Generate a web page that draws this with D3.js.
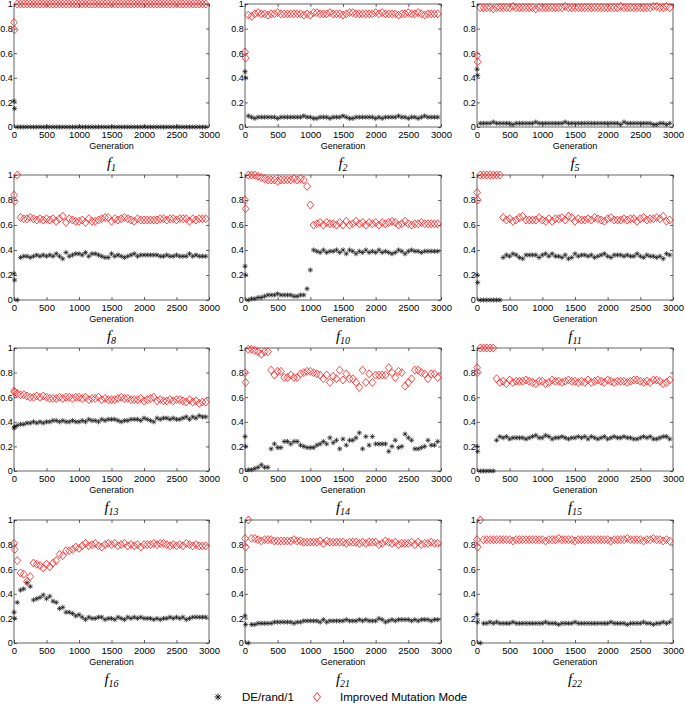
<!DOCTYPE html>
<html><head><meta charset="utf-8">
<script src="https://cdn.jsdelivr.net/npm/d3@7"></script>
<style>body{margin:0;background:#fff}svg{display:block}</style>
</head><body>
<svg id="c" width="685" height="705"></svg>
<script>
// Generations at which the ratios were sampled
const generations = [1,10,50,100,150,200,250,300,350,400,
 450,500,550,600,650,700,750,800,850,900,
 950,1000,1050,1100,1150,1200,1250,1300,1350,1400,
 1450,1500,1550,1600,1650,1700,1750,1800,1850,1900,
 1950,2000,2050,2100,2150,2200,2250,2300,2350,2400,
 2450,2500,2550,2600,2650,2700,2750,2800,2850,2900,2950];
const xTicks = [0,500,1000,1500,2000,2500,3000];
const yTicks = [0,0.2,0.4,0.6,0.8,1];
const yTickLabels = ["0","0.2","0.4","0.6","0.8","1"];
const panelNames = ["1","2","5","8","10","11","13","14","15","16","21","22"];
const seriesNames = ["DE/rand/1","Improved Mutation Mode"];

const f1_rand = [0.21,0.15,0,0,0,0,0,0,0,0,
 0,0,0,0,0,0,0,0,0,0, 0,0,0,0,0,0,0,0,0,0, 0,0,0,0,0,0,0,0,0,0,
 0,0,0,0,0,0,0,0,0,0, 0,0,0,0,0,0,0,0,0,0,0];
const f1_imp = [0.85,0.79,1,1,1,1,1,1,1,1,
 1,1,1,1,1,1,1,1,1,1, 1,1,1,1,1,1,1,1,1,1, 1,1,1,1,1,1,1,1,1,1,
 1,1,1,1,1,1,1,1,1,1, 1,1,1,1,1,1,1,1,1,1,1];

const f2_rand = [0.45,0.40,0.09,0.08,0.07,0.08,0.08,0.08,0.08,0.08,
 0.08,0.07,0.08,0.08,0.08,0.08,0.08,0.08,0.08,0.09,
 0.08,0.08,0.07,0.07,0.08,0.08,0.08,0.07,0.08,0.08,
 0.08,0.09,0.08,0.07,0.07,0.08,0.08,0.08,0.08,0.08,
 0.08,0.07,0.08,0.07,0.08,0.08,0.08,0.08,0.09,0.08,
 0.08,0.07,0.08,0.08,0.07,0.08,0.09,0.08,0.08,0.08,0.08];
const f2_imp = [0.61,0.56,0.91,0.90,0.92,0.93,0.92,0.92,0.91,0.92,
 0.92,0.93,0.92,0.92,0.92,0.92,0.92,0.92,0.92,0.91,
 0.92,0.91,0.93,0.93,0.92,0.92,0.92,0.93,0.92,0.92,
 0.92,0.91,0.92,0.93,0.93,0.92,0.92,0.92,0.92,0.92,
 0.92,0.93,0.92,0.93,0.92,0.92,0.92,0.92,0.91,0.92,
 0.92,0.93,0.92,0.92,0.93,0.92,0.91,0.92,0.92,0.92,0.92];

const f5_rand = [0.47,0.42,0.03,0.03,0.03,0.03,0.04,0.03,0.03,0.03,
 0.03,0.03,0.02,0.03,0.03,0.03,0.03,0.03,0.03,0.04,
 0.03,0.03,0.03,0.03,0.03,0.03,0.03,0.03,0.04,0.03,
 0.03,0.03,0.03,0.03,0.03,0.03,0.03,0.03,0.03,0.03,
 0.03,0.03,0.03,0.03,0.03,0.02,0.04,0.03,0.03,0.03,
 0.03,0.03,0.03,0.03,0.03,0.02,0.02,0.03,0.03,0.02,0.03];
const f5_imp = [0.58,0.53,0.97,0.97,0.97,0.97,0.96,0.97,0.97,0.97,
 0.97,0.97,0.98,0.97,0.97,0.97,0.97,0.97,0.97,0.96,
 0.97,0.97,0.97,0.97,0.97,0.97,0.97,0.97,0.98,0.97,
 0.97,0.97,0.97,0.97,0.97,0.97,0.97,0.97,0.97,0.97,
 0.97,0.97,0.97,0.97,0.97,0.98,0.97,0.97,0.97,0.97,
 0.97,0.97,0.97,0.97,0.97,0.98,0.98,0.97,0.97,0.98,0.97];

const f8_rand = [0.21,0.16,0.00,0.34,0.35,0.35,0.34,0.35,0.36,0.35,
 0.36,0.35,0.36,0.35,0.37,0.35,0.33,0.38,0.35,0.36,
 0.37,0.37,0.36,0.38,0.35,0.37,0.37,0.36,0.35,0.34,
 0.34,0.37,0.35,0.36,0.35,0.34,0.35,0.36,0.37,0.35,
 0.36,0.36,0.36,0.36,0.36,0.36,0.35,0.35,0.36,0.35,
 0.35,0.36,0.35,0.35,0.35,0.37,0.35,0.36,0.35,0.35,0.35];
const f8_imp = [0.84,0.79,1.00,0.66,0.65,0.65,0.66,0.65,0.64,0.65,
 0.64,0.65,0.64,0.65,0.63,0.65,0.67,0.62,0.65,0.64,
 0.63,0.63,0.64,0.62,0.65,0.63,0.63,0.64,0.65,0.66,
 0.66,0.63,0.65,0.64,0.65,0.66,0.65,0.64,0.63,0.65,
 0.64,0.64,0.64,0.64,0.64,0.64,0.65,0.65,0.64,0.65,
 0.65,0.64,0.65,0.65,0.65,0.63,0.65,0.64,0.65,0.65,0.65];

const f10_rand = [0.27,0.20,0.00,0.01,0.01,0.02,0.02,0.03,0.04,0.04,
 0.04,0.05,0.04,0.04,0.04,0.04,0.03,0.03,0.04,0.04,
 0.09,0.24,0.40,0.39,0.38,0.40,0.38,0.39,0.39,0.40,
 0.38,0.40,0.37,0.40,0.39,0.37,0.39,0.38,0.40,0.38,
 0.39,0.38,0.40,0.38,0.39,0.38,0.37,0.38,0.40,0.39,
 0.37,0.39,0.40,0.39,0.39,0.38,0.39,0.39,0.39,0.39,0.39];
const f10_imp = [0.80,0.73,1.00,1.00,1.00,0.99,0.98,0.97,0.96,0.96,
 0.96,0.95,0.96,0.96,0.96,0.96,0.97,0.96,0.97,0.96,
 0.91,0.76,0.60,0.61,0.62,0.60,0.62,0.61,0.61,0.60,
 0.62,0.60,0.63,0.60,0.61,0.63,0.61,0.62,0.60,0.62,
 0.61,0.62,0.60,0.62,0.61,0.62,0.63,0.62,0.60,0.61,
 0.63,0.61,0.60,0.61,0.61,0.62,0.61,0.61,0.61,0.61,0.61];

const f11_rand = [0.20,0.14,0.00,0.00,0.00,0.00,0.00,0.00,0.00,0.34,
 0.36,0.35,0.37,0.36,0.34,0.33,0.36,0.36,0.36,0.36,
 0.34,0.36,0.37,0.35,0.37,0.35,0.35,0.34,0.36,0.33,
 0.34,0.37,0.35,0.36,0.36,0.35,0.36,0.34,0.35,0.36,
 0.37,0.35,0.34,0.36,0.36,0.36,0.35,0.36,0.35,0.35,
 0.37,0.35,0.34,0.36,0.35,0.35,0.34,0.35,0.33,0.37,0.36];
const f11_imp = [0.86,0.80,1.00,1.00,1.00,1.00,1.00,1.00,1.00,0.66,
 0.64,0.65,0.63,0.64,0.66,0.67,0.64,0.64,0.64,0.64,
 0.66,0.64,0.63,0.65,0.63,0.65,0.65,0.66,0.64,0.67,
 0.66,0.63,0.65,0.64,0.64,0.65,0.64,0.66,0.65,0.64,
 0.63,0.65,0.66,0.64,0.64,0.64,0.65,0.64,0.65,0.65,
 0.63,0.65,0.66,0.64,0.65,0.65,0.66,0.65,0.67,0.63,0.64];

const f13_rand = [0.35,0.36,0.37,0.38,0.38,0.39,0.39,0.40,0.39,0.40,
 0.39,0.40,0.40,0.41,0.41,0.40,0.41,0.40,0.40,0.41,
 0.40,0.40,0.41,0.40,0.42,0.41,0.41,0.40,0.42,0.41,
 0.42,0.42,0.42,0.41,0.40,0.41,0.41,0.42,0.42,0.42,
 0.41,0.43,0.42,0.41,0.40,0.43,0.42,0.43,0.43,0.42,
 0.43,0.42,0.42,0.43,0.44,0.42,0.44,0.43,0.45,0.44,0.44];
const f13_imp = [0.65,0.64,0.63,0.62,0.62,0.61,0.60,0.60,0.61,0.60,
 0.61,0.60,0.59,0.59,0.59,0.60,0.59,0.60,0.60,0.59,
 0.60,0.60,0.59,0.60,0.58,0.59,0.59,0.60,0.58,0.59,
 0.58,0.58,0.58,0.59,0.60,0.59,0.59,0.58,0.58,0.58,
 0.59,0.57,0.58,0.59,0.60,0.57,0.58,0.57,0.57,0.58,
 0.57,0.58,0.58,0.57,0.56,0.58,0.56,0.57,0.55,0.56,0.56];

const f14_rand = [0.28,0.20,0.01,0.01,0.02,0.03,0.05,0.03,0.03,0.18,
 0.22,0.19,0.19,0.24,0.24,0.22,0.24,0.24,0.21,0.20,
 0.19,0.19,0.19,0.21,0.22,0.24,0.22,0.27,0.23,0.25,
 0.18,0.26,0.21,0.25,0.25,0.27,0.31,0.18,0.28,0.21,
 0.28,0.22,0.22,0.22,0.22,0.16,0.20,0.25,0.19,0.20,
 0.30,0.27,0.25,0.18,0.18,0.19,0.20,0.25,0.21,0.21,0.24];
const f14_imp = [0.80,0.72,0.99,0.99,0.98,0.97,0.95,0.97,0.97,0.82,
 0.78,0.81,0.81,0.76,0.76,0.78,0.76,0.76,0.79,0.80,
 0.81,0.81,0.80,0.79,0.78,0.75,0.78,0.72,0.77,0.75,
 0.82,0.74,0.79,0.75,0.75,0.72,0.68,0.82,0.72,0.79,
 0.72,0.78,0.78,0.78,0.78,0.84,0.80,0.76,0.81,0.80,
 0.69,0.72,0.75,0.82,0.82,0.80,0.79,0.75,0.79,0.79,0.76];

const f15_rand = [0.20,0.16,0.00,0.00,0.00,0.00,0.00,0.25,0.28,0.27,
 0.28,0.26,0.27,0.27,0.27,0.27,0.26,0.27,0.28,0.29,
 0.27,0.27,0.29,0.28,0.26,0.27,0.27,0.28,0.27,0.26,
 0.27,0.27,0.28,0.27,0.28,0.26,0.28,0.27,0.26,0.27,
 0.28,0.26,0.27,0.28,0.27,0.27,0.28,0.27,0.27,0.26,
 0.26,0.27,0.28,0.27,0.28,0.26,0.26,0.27,0.28,0.28,0.26];
const f15_imp = [0.84,0.80,1.00,1.00,1.00,1.00,1.00,0.75,0.72,0.73,
 0.71,0.74,0.72,0.73,0.73,0.73,0.74,0.73,0.72,0.71,
 0.73,0.73,0.71,0.72,0.74,0.73,0.73,0.72,0.73,0.74,
 0.73,0.73,0.72,0.73,0.72,0.74,0.72,0.73,0.74,0.73,
 0.72,0.74,0.73,0.72,0.73,0.73,0.73,0.72,0.73,0.74,
 0.74,0.73,0.72,0.73,0.72,0.74,0.74,0.73,0.71,0.72,0.74];

const f16_rand = [0.25,0.20,0.33,0.43,0.44,0.49,0.46,0.35,0.36,0.37,
 0.39,0.36,0.38,0.34,0.33,0.28,0.29,0.25,0.25,0.24,
 0.22,0.23,0.21,0.19,0.21,0.20,0.20,0.21,0.21,0.19,
 0.20,0.20,0.19,0.21,0.20,0.19,0.21,0.20,0.21,0.20,
 0.21,0.20,0.20,0.20,0.19,0.20,0.19,0.20,0.20,0.21,
 0.20,0.21,0.20,0.21,0.19,0.20,0.21,0.21,0.21,0.21,0.21];
const f16_imp = [0.81,0.76,0.67,0.57,0.56,0.50,0.54,0.65,0.64,0.63,
 0.61,0.64,0.62,0.65,0.67,0.72,0.71,0.75,0.75,0.76,
 0.78,0.77,0.79,0.81,0.79,0.80,0.81,0.79,0.78,0.80,
 0.81,0.80,0.81,0.79,0.80,0.81,0.79,0.80,0.79,0.80,
 0.78,0.80,0.80,0.80,0.81,0.80,0.81,0.81,0.80,0.79,
 0.80,0.79,0.80,0.79,0.81,0.80,0.79,0.80,0.79,0.79,0.79];

const f21_rand = [0.22,0.15,0.00,0.15,0.15,0.16,0.16,0.16,0.16,0.16,
 0.17,0.17,0.17,0.17,0.17,0.17,0.16,0.17,0.17,0.18,
 0.18,0.18,0.18,0.18,0.17,0.19,0.17,0.18,0.18,0.18,
 0.18,0.18,0.19,0.18,0.18,0.18,0.19,0.18,0.19,0.18,
 0.18,0.18,0.20,0.19,0.17,0.18,0.19,0.18,0.19,0.19,
 0.19,0.19,0.18,0.19,0.18,0.19,0.19,0.19,0.18,0.19,0.19];
const f21_imp = [0.85,0.78,1.00,0.85,0.85,0.84,0.83,0.84,0.84,0.84,
 0.83,0.83,0.83,0.83,0.83,0.83,0.84,0.83,0.83,0.82,
 0.82,0.82,0.82,0.82,0.83,0.81,0.83,0.82,0.82,0.82,
 0.82,0.82,0.81,0.82,0.82,0.82,0.81,0.82,0.81,0.82,
 0.82,0.82,0.80,0.81,0.83,0.82,0.81,0.82,0.80,0.81,
 0.81,0.81,0.82,0.80,0.82,0.80,0.81,0.81,0.82,0.81,0.81];

const f22_rand = [0.23,0.17,0.00,0.16,0.16,0.17,0.16,0.17,0.16,0.16,
 0.16,0.16,0.17,0.16,0.16,0.16,0.16,0.16,0.16,0.16,
 0.16,0.16,0.17,0.16,0.16,0.16,0.15,0.16,0.16,0.16,
 0.16,0.17,0.16,0.16,0.16,0.16,0.16,0.16,0.16,0.16,
 0.16,0.16,0.17,0.16,0.16,0.16,0.16,0.15,0.16,0.16,
 0.16,0.16,0.17,0.16,0.16,0.15,0.16,0.16,0.17,0.16,0.17];
const f22_imp = [0.84,0.78,1.00,0.84,0.84,0.84,0.84,0.84,0.84,0.84,
 0.84,0.84,0.83,0.84,0.84,0.84,0.84,0.84,0.84,0.84,
 0.84,0.84,0.83,0.84,0.84,0.84,0.85,0.84,0.84,0.84,
 0.84,0.83,0.84,0.84,0.84,0.84,0.84,0.84,0.84,0.84,
 0.84,0.84,0.83,0.84,0.84,0.84,0.84,0.85,0.84,0.84,
 0.84,0.84,0.83,0.84,0.84,0.85,0.84,0.84,0.83,0.84,0.83];

const randSeries = [f1_rand,f2_rand,f5_rand,f8_rand,f10_rand,f11_rand,f13_rand,f14_rand,f15_rand,f16_rand,f21_rand,f22_rand];
const impSeries  = [f1_imp,f2_imp,f5_imp,f8_imp,f10_imp,f11_imp,f13_imp,f14_imp,f15_imp,f16_imp,f21_imp,f22_imp];

// ---- layout ----
const colL = [14, 245, 477], colR = [209, 441, 673];
const rowT = [4, 175, 348, 520], rowB = [127, 300, 471, 643];
const svg = d3.select("#c");
const tickFont = "'Liberation Sans', Arial, sans-serif";

const starPath = (() => {
  const r = 2.6, d = 1.85;
  return `M${-r},0L${r},0M0,${-r}L0,${r}M${-d},${-d}L${d},${d}M${-d},${d}L${d},${-d}`;
})();
const diamondPath = "M0,-4L3.4,0L0,4L-3.4,0Z";

panelNames.forEach((name, i) => {
  const r = Math.floor(i / 3), c = i % 3;
  const x = d3.scaleLinear().domain([0, 3000]).range([colL[c], colR[c]]);
  const y = d3.scaleLinear().domain([0, 1]).range([rowB[r], rowT[r]]);
  const g = svg.append("g");

  const axB = d3.axisBottom(x).tickValues(xTicks).tickFormat(d3.format("d")).tickSizeInner(-3).tickSizeOuter(0).tickPadding(4);
  const axT = d3.axisTop(x).tickValues(xTicks).tickFormat("").tickSizeInner(-3).tickSizeOuter(0);
  const axL = d3.axisLeft(y).tickValues(yTicks).tickFormat((d, j) => yTickLabels[j]).tickSizeInner(-3).tickSizeOuter(0).tickPadding(1.2);
  const axR = d3.axisRight(y).tickValues(yTicks).tickFormat("").tickSizeInner(-3).tickSizeOuter(0);

  [[axB, `translate(0,${rowB[r]})`, 9.5], [axT, `translate(0,${rowT[r]})`, 9.5],
   [axL, `translate(${colL[c]},0)`, 9], [axR, `translate(${colR[c]},0)`, 9]].forEach(([ax, tr, fs]) => {
    const a = g.append("g").attr("transform", tr).call(ax);
    a.select(".domain").remove();
    a.selectAll("line").attr("stroke", "#222").attr("stroke-width", 0.7);
    a.selectAll("text").attr("font-family", tickFont).attr("font-size", fs).attr("fill", "#000");
  });
  g.append("rect").attr("x", colL[c]).attr("y", rowT[r])
    .attr("width", colR[c] - colL[c]).attr("height", rowB[r] - rowT[r])
    .attr("fill", "none").attr("stroke", "#222").attr("stroke-width", 0.7);

  g.append("text").attr("x", (colL[c] + colR[c]) / 2).attr("y", rowB[r] + 22)
    .attr("text-anchor", "middle").attr("font-family", tickFont).attr("font-size", 9)
    .text("Generation");
  const t = g.append("text").attr("x", (colL[c] + colR[c]) / 2).attr("y", rowB[r] + 41)
    .attr("text-anchor", "middle").attr("font-family", "'Liberation Serif', 'Times New Roman', serif")
    .attr("font-style", "italic");
  t.append("tspan").attr("font-size", 15).text("f");
  t.append("tspan").attr("font-size", 10).attr("dy", 3).text(name);

  const rs = randSeries[i], is = impSeries[i];
  g.append("g").selectAll("path").data(generations).join("path")
    .attr("d", starPath)
    .attr("transform", (d, k) => `translate(${x(d)},${y(rs[k])})`)
    .attr("fill", "none").attr("stroke", "#111").attr("stroke-width", 0.7);
  g.append("g").selectAll("path").data(generations).join("path")
    .attr("d", diamondPath)
    .attr("transform", (d, k) => `translate(${x(d)},${y(is[k])})`)
    .attr("fill", "none").attr("stroke", "#ff1a1a").attr("stroke-width", 0.8);
});

// legend
const lg = svg.append("g");
lg.append("path").attr("d", "M-3.5,0L3.5,0M0,-3.5L0,3.5M-2.5,-2.5L2.5,2.5M-2.5,2.5L2.5,-2.5")
  .attr("transform", "translate(218,697)").attr("stroke", "#111").attr("stroke-width", 0.9).attr("fill", "none");
lg.append("text").attr("x", 242).attr("y", 701).attr("font-family", tickFont).attr("font-size", 11.5).text(seriesNames[0]);
lg.append("path").attr("d", "M0,-4.5L3.5,0L0,4.5L-3.5,0Z")
  .attr("transform", "translate(317,697)").attr("stroke", "#ff1a1a").attr("stroke-width", 0.9).attr("fill", "none");
lg.append("text").attr("x", 340).attr("y", 701).attr("font-family", tickFont).attr("font-size", 11.5).text(seriesNames[1]);
</script>
</body></html>
